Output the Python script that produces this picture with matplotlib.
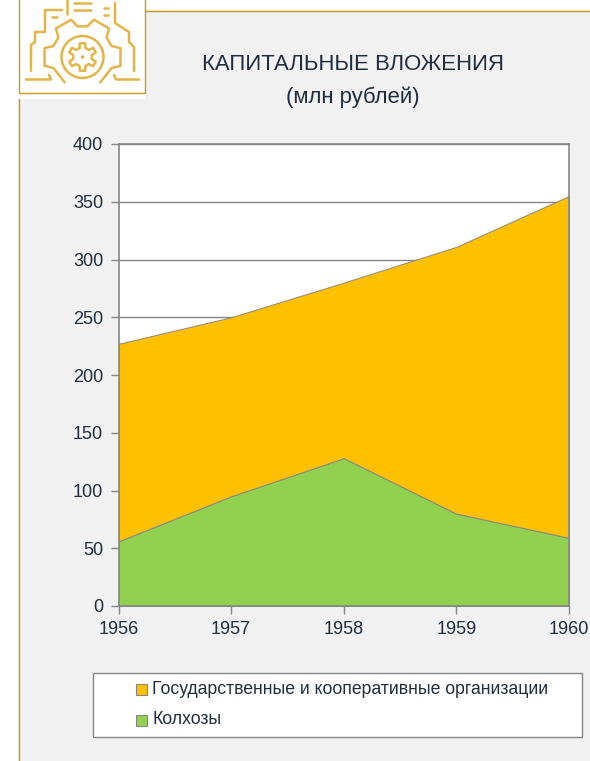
import numpy as np
import matplotlib
matplotlib.use('Agg')
import matplotlib.pyplot as plt
from matplotlib.patches import Circle, Rectangle

plt.rcParams['font.family'] = ['Liberation Sans', 'DejaVu Sans']

years = [1956, 1957, 1958, 1959, 1960]
kolkhozy = [56, 95, 128, 80, 59]
total = [227, 250, 280, 311, 355]
y_ticks = [0, 50, 100, 150, 200, 250, 300, 350, 400]
series_names = ['Государственные и кооперативные организации', 'Колхозы']
title_lines = ['КАПИТАЛЬНЫЕ ВЛОЖЕНИЯ', '(млн рублей)']

W, H = 590, 761
GOLD = '#CC9A06'
ICON = '#E3B448'
TEXT = '#1F2D3D'
GREY = '#868686'
ORANGE = '#FFC000'
GREEN = '#92D050'

fig = plt.figure(figsize=(W / 100, H / 100), dpi=100, facecolor='white')

# фон и рамка, координаты в пикселях
bg = fig.add_axes([0, 0, 1, 1], zorder=0)
bg.set_xlim(0, W)
bg.set_ylim(H, 0)
bg.axis('off')
bg.add_patch(Rectangle((18, 10), W - 18, H - 10, fc='#F1F1F1', ec='none'))
bg.plot([145, W], [10.5, 10.5], color=GOLD, lw=1.0)
bg.plot([18.5, 18.5], [93, H], color=GOLD, lw=1.0)
bg.add_patch(Rectangle((18, 0), 127, 99, fc='white', ec='none', zorder=3))
bg.plot([18.5, 18.5, 144.5, 144.5], [0, 92.5, 92.5, 0], color=GOLD, lw=1.0, zorder=4)


def icon_line(xs, ys, lw=1.8):
    bg.plot(xs, ys, color=ICON, lw=lw, zorder=5, solid_capstyle='round', solid_joinstyle='round')


def gear_outline(cx, cy, r_out, r_in, centers, half_in, half_out, start=None, stop=None):
    # контур шестерёнки по центрам зубьев (градусы)
    ang, rad = [], []
    if start is not None:
        ang.append(start)
        rad.append(r_in)
    for c in centers:
        ang += [c + half_in, c + half_out, c - half_out, c - half_in]
        rad += [r_in, r_out, r_out, r_in]
    if stop is not None:
        ang.append(stop)
        rad.append(r_in)
    else:
        ang.append(ang[0])
        rad.append(rad[0])
    ang = np.radians(ang)
    rad = np.array(rad)
    icon_line(cx + rad * np.cos(ang), cy - rad * np.sin(ang))


# значок: большая шестерня разомкнута снизу
gear_outline(82.5, 57, 39, 31, [180, 120, 60, 0], 21, 13, start=235, stop=-55)
gear_outline(82.5, 57, 14, 9.5, [90, 30, -30, -90, -150, -210], 18, 11)
bg.add_patch(Circle((82.5, 57), 21, fc='none', ec=ICON, lw=1.8, zorder=5))
bg.add_patch(Circle((82.5, 57), 1.8, fc=ICON, ec='none', zorder=5))
icon_line([26, 51, 49], [79.5, 79.5, 75])
icon_line([139, 116, 114], [79.5, 79.5, 75])
icon_line([31, 31, 35, 35, 45, 45, 62], [71, 45, 42, 32, 32, 10, 10])
icon_line([134, 134, 129, 129, 115, 115], [71, 47, 42, 32, 23, 3])
icon_line([52, 57], [17, 17])
icon_line([67, 67], [0, 14])
icon_line([74, 91], [10, 10])
icon_line([74, 91], [2.5, 2.5])
icon_line([104, 108], [15, 15])
icon_line([104, 108], [8, 8])

ax = fig.add_axes([118.5 / W, 1 - 606 / H, (569 - 118.5) / W, (606 - 144) / H], zorder=2)
ax.set_facecolor('white')
ax.stackplot(years, kolkhozy, np.array(total) - np.array(kolkhozy),
             colors=[GREEN, ORANGE], edgecolor=GREY, linewidth=0.7, zorder=3)
ax.set_xlim(years[0], years[-1])
ax.set_ylim(0, 400)
ax.set_xticks(years)
ax.set_yticks(y_ticks)
ax.grid(axis='y', color=GREY, lw=1.0, zorder=1)
ax.set_axisbelow(True)
for s in ax.spines.values():
    s.set_color(GREY)
    s.set_linewidth(1.2)
    s.set_zorder(5)
ax.tick_params(axis='both', color=GREY, width=1, length=6, labelsize=13, labelcolor=TEXT)
ax.tick_params(axis='x', pad=5)
ax.tick_params(axis='y', pad=5)

bg.text(352.5, 65, title_lines[0], ha='center', va='center', fontsize=15.9, color=TEXT, zorder=6)
bg.text(352.5, 97, title_lines[1], ha='center', va='center', fontsize=15.9, color=TEXT, zorder=6)

# легенда собрана вручную, чтобы попасть в рамку оригинала
bg.add_patch(Rectangle((93, 672.5), 489, 64, fc='white', ec=GREY, lw=1, zorder=6))
colors = [ORANGE, GREEN]
rows = [689, 720]
for name, color, row in zip(series_names, colors, rows):
    bg.add_patch(Rectangle((135.5, row - 5.5), 11, 11, fc=color, ec=GREY, lw=0.8, zorder=7))
    bg.text(152, row, name, ha='left', va='center', fontsize=12.7, color=TEXT, zorder=7)

fig.savefig('out.png', dpi=100)
